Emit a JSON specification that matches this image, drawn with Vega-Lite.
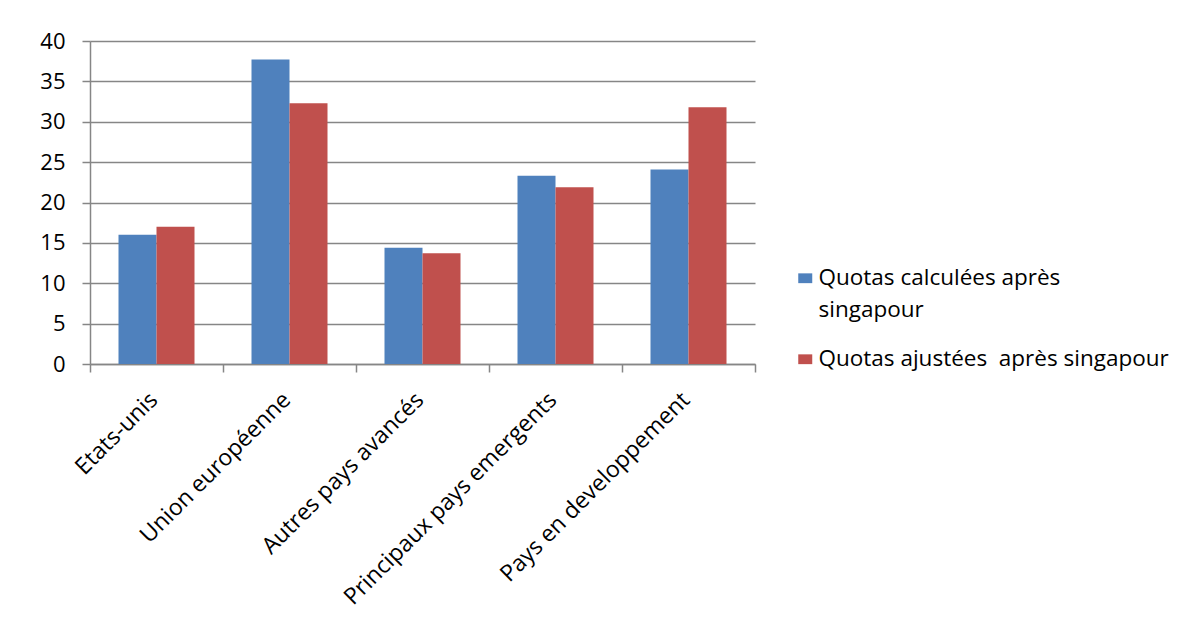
{
  "$schema": "https://vega.github.io/schema/vega-lite/v6.json",
  "width": 665,
  "height": 323,
  "autosize": {"type": "none"},
  "padding": {"left": 90, "top": 41, "right": 435, "bottom": 280},
  "background": "white",
  "config": {
    "view": {"stroke": null},
    "font": "Open Sans",
    "style": {"guide-label": {"lineHeight": 32}}
  },
  "data": {
    "values": [
      {"region": "Etats-unis", "series": "Quotas calculées après singapour", "value": 16.0},
      {"region": "Etats-unis", "series": "Quotas ajustées  après singapour", "value": 17.0},
      {"region": "Union européenne", "series": "Quotas calculées après singapour", "value": 37.7},
      {"region": "Union européenne", "series": "Quotas ajustées  après singapour", "value": 32.3},
      {"region": "Autres pays avancés", "series": "Quotas calculées après singapour", "value": 14.4},
      {"region": "Autres pays avancés", "series": "Quotas ajustées  après singapour", "value": 13.7},
      {"region": "Principaux pays emergents", "series": "Quotas calculées après singapour", "value": 23.3},
      {"region": "Principaux pays emergents", "series": "Quotas ajustées  après singapour", "value": 21.9},
      {"region": "Pays en developpement", "series": "Quotas calculées après singapour", "value": 24.1},
      {"region": "Pays en developpement", "series": "Quotas ajustées  après singapour", "value": 31.8}
    ]
  },
  "mark": {"type": "bar"},
  "encoding": {
    "x": {
      "field": "region",
      "type": "nominal",
      "sort": null,
      "scale": {"paddingInner": 0, "paddingOuter": 0},
      "axis": {
        "title": null,
        "labelAngle": -45,
        "labelAlign": "right",
        "labelBaseline": "middle",
        "tickBand": "extent",
        "tickSize": 8,
        "tickWidth": 1.5,
        "tickColor": "#868686",
        "domainColor": "#868686",
        "domainWidth": 1.5,
        "labelFont": "Open Sans",
        "labelFontSize": 23,
        "labelColor": "black",
        "labelPadding": 24,
        "labelOffset": -3,
        "labelLimit": 400
      }
    },
    "xOffset": {
      "field": "series",
      "sort": null,
      "scale": {"paddingInner": 0, "paddingOuter": 0.75}
    },
    "y": {
      "field": "value",
      "type": "quantitative",
      "scale": {"domain": [0, 40], "nice": false},
      "axis": {
        "title": null,
        "values": [0, 5, 10, 15, 20, 25, 30, 35, 40],
        "grid": true,
        "gridColor": "#868686",
        "gridWidth": 1.5,
        "gridOpacity": 1,
        "domain": true,
        "domainColor": "#868686",
        "domainWidth": 1.5,
        "tickColor": "#868686",
        "tickWidth": 1.5,
        "tickSize": 8,
        "labelPadding": 17,
        "labelFont": "Open Sans",
        "labelFontSize": 22,
        "labelColor": "black"
      }
    },
    "color": {
      "field": "series",
      "type": "nominal",
      "sort": null,
      "scale": {"range": ["#4F81BD", "#C0504D"]},
      "legend": {
        "title": null,
        "orient": "none",
        "legendX": 704,
        "legendY": 226,
        "padding": 0,
        "symbolType": "M-1,-0.7H1V0.7H-1Z",
        "symbolSize": 196,
        "symbolStrokeWidth": 0,
        "labelFont": "Open Sans",
        "labelFontSize": 22.5,
        "labelColor": "black",
        "labelOffset": 2,
        "labelLimit": 450,
        "labelBaseline": "middle",
        "rowPadding": 26,
        "labelExpr": "datum.value == 'Quotas calculées après singapour' ? ['\u00a0Quotas calculées après', 'singapour'] : 'Quotas ajustées \u00a0après singapour'"
      }
    }
  }
}
